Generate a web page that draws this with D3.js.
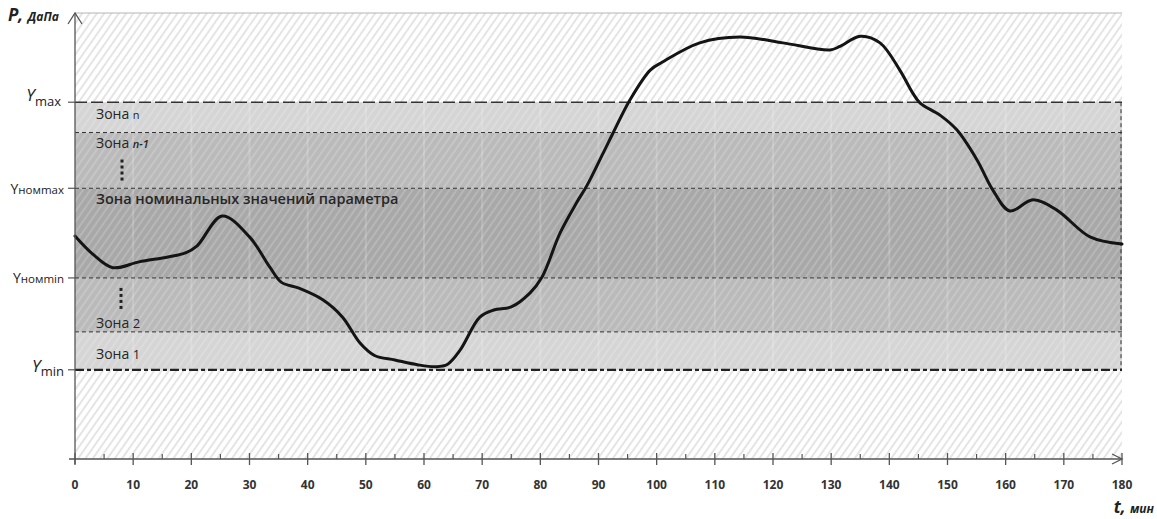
<!DOCTYPE html>
<html>
<head>
<meta charset="utf-8">
<script src="https://cdn.jsdelivr.net/npm/d3@7"></script>
<style>
  html, body { margin: 0; padding: 0; background: #fff; }
  svg { display: block; font-family: "Open Sans", "DejaVu Sans", sans-serif; }
</style>
</head>
<body>
<svg id="chart" width="1157" height="519"></svg>
<script>
// Time axis (minutes)
const timeTicks = d3.range(0, 181, 10);
const minorTicks = d3.range(5, 180, 10);

// Pressure trace: time (min) and value (arbitrary units of the P axis)
const traceTime = [0, 3, 6.5, 11, 16, 19, 21, 25.3, 30, 33.5, 35.5, 38.5, 42.6, 46, 49, 51.5, 55, 59, 62, 64, 66.2, 69.6, 72, 75, 78.2, 80.3, 83.4, 86.3, 88, 90.8, 92.5, 95.4, 98.9, 101, 107.4, 114.3, 121.7, 129.8, 131.5, 135, 138.4, 141.8, 144, 145.3, 148.7, 151.6, 155.1, 157.8, 160.7, 164.7, 168.8, 174.5, 180];
const traceValue = [50, 46, 42.9, 44.2, 45.3, 46.2, 47.8, 54.5, 49.8, 43, 39.6, 38.3, 35.7, 31.8, 26, 23.2, 22.2, 21.1, 20.7, 21.2, 24.4, 31.8, 33.4, 34.1, 37.2, 40.8, 50.7, 57.6, 61.3, 68.6, 73.1, 80.5, 87.2, 89, 93.3, 94.6, 93.3, 91.7, 92.5, 94.8, 93.3, 87.2, 82.1, 79.8, 77.1, 73.8, 67, 60.3, 55.6, 58.1, 55.8, 49.8, 48.2];

// Zone boundaries, bottom to top: Ymin, zone 1/2, Yном min, Yном max, zone n-1/n, Ymax
const zoneBounds = [20, 28.5, 40.6, 60.7, 73.2, 80];
const zoneFill = ["#d5d5d5", "#bababa", "#a8a8a8", "#bababa", "#d5d5d5"];

const svg = d3.select("#chart");
const x = d3.scaleLinear().domain([0, 180]).range([75, 1122]);
const y = d3.scaleLinear().domain([0, 100]).range([459, 13]);

const defs = svg.append("defs");
function hatch(id, color, width) {
  const p = defs.append("pattern")
    .attr("id", id)
    .attr("patternUnits", "userSpaceOnUse")
    .attr("width", 6).attr("height", 6)
    .attr("patternTransform", "rotate(35)");
  p.append("line")
    .attr("x1", 3).attr("y1", -1).attr("x2", 3).attr("y2", 7)
    .attr("stroke", color).attr("stroke-width", width);
}
hatch("hatchLight", "#dedede", 1.6);
hatch("hatchOnGray", "rgba(255,255,255,0.22)", 1.6);

const x0 = x(0), x1 = x(180);

// Whole plot area: white with light hatching
svg.append("rect")
  .attr("x", x0).attr("y", y(100))
  .attr("width", x1 - x0).attr("height", y(0) - y(100))
  .attr("fill", "#fff");
svg.append("rect")
  .attr("x", x0).attr("y", y(100))
  .attr("width", x1 - x0).attr("height", y(0) - y(100))
  .attr("fill", "url(#hatchLight)");

// Zone bands
const bands = d3.range(zoneBounds.length - 1).map(i => ({ lo: zoneBounds[i], hi: zoneBounds[i + 1], i }));
svg.selectAll("rect.zone").data(bands).join("rect")
  .attr("class", "zone")
  .attr("x", x0).attr("y", d => y(d.hi))
  .attr("width", x1 - x0).attr("height", d => y(d.lo) - y(d.hi))
  .attr("fill", d => zoneFill[d.i]);
svg.selectAll("rect.zoneHatch").data(bands).join("rect")
  .attr("class", "zoneHatch")
  .attr("x", x0).attr("y", d => y(d.hi))
  .attr("width", x1 - x0).attr("height", d => y(d.lo) - y(d.hi))
  .attr("fill", "url(#hatchOnGray)");

// Faint vertical grid every 10 min
svg.selectAll("line.vgrid").data(timeTicks.slice(1, -1)).join("line")
  .attr("class", "vgrid")
  .attr("x1", d => x(d)).attr("x2", d => x(d))
  .attr("y1", y(100)).attr("y2", y(0))
  .attr("stroke", "rgba(255,255,255,0.18)").attr("stroke-width", 2);

// Top border of the plot
svg.append("line")
  .attr("x1", x0).attr("x2", x1).attr("y1", y(100)).attr("y2", y(100))
  .attr("stroke", "#b5b5b5").attr("stroke-width", 1.2);

// Right border of the zone block (dashed)
svg.append("line")
  .attr("x1", x1 - 1).attr("x2", x1 - 1)
  .attr("y1", y(zoneBounds[zoneBounds.length - 1])).attr("y2", y(zoneBounds[0]))
  .attr("stroke", "#333").attr("stroke-width", 1).attr("stroke-dasharray", "4,3");

// Inner zone boundaries
svg.selectAll("line.zoneLine").data(zoneBounds.slice(1, -1)).join("line")
  .attr("class", "zoneLine")
  .attr("x1", x0).attr("x2", x1)
  .attr("y1", d => y(d)).attr("y2", d => y(d))
  .attr("stroke", "#333").attr("stroke-width", 1).attr("stroke-dasharray", "4,3");

// Ymax and Ymin lines
svg.append("line")
  .attr("x1", x0).attr("x2", x1)
  .attr("y1", y(zoneBounds[5])).attr("y2", y(zoneBounds[5]))
  .attr("stroke", "#333").attr("stroke-width", 1.6).attr("stroke-dasharray", "12,4");
svg.append("line")
  .attr("x1", x0).attr("x2", x1)
  .attr("y1", y(zoneBounds[0])).attr("y2", y(zoneBounds[0]))
  .attr("stroke", "#222").attr("stroke-width", 2.2).attr("stroke-dasharray", "9,3,4,3");

// Zone captions
const cap = svg.append("g").attr("fill", "#262626").attr("font-size", 14);
const tN = cap.append("text").attr("x", 96).attr("y", y(zoneBounds[5]) + 17);
tN.append("tspan").text("Зона ");
tN.append("tspan").attr("font-size", 11).text("n");
const tN1 = cap.append("text").attr("x", 96).attr("y", y(zoneBounds[4]) + 15.5);
tN1.append("tspan").text("Зона ");
tN1.append("tspan").attr("font-size", 11).attr("font-style", "italic").attr("font-weight", 600).text("n-1");
cap.append("text").attr("x", 96).attr("y", y(zoneBounds[3]) + 16)
  .attr("font-size", 14.5).attr("font-weight", 600).text("Зона номинальных значений параметра");
const t2 = cap.append("text").attr("x", 96).attr("y", y(zoneBounds[1]) - 3.5);
t2.append("tspan").text("Зона ");
t2.append("tspan").attr("font-size", 13).text("2");
const t1 = cap.append("text").attr("x", 96).attr("y", y(zoneBounds[1]) + 27.5);
t1.append("tspan").text("Зона ");
t1.append("tspan").attr("font-size", 13).text("1");

// Vertical ellipsis marks between the zones
const dotOffsets = [0, 6, 12, 18];
svg.selectAll("rect.dotA").data(dotOffsets).join("rect")
  .attr("class", "dotA")
  .attr("x", 120.5).attr("y", d => y(zoneBounds[4]) + 27 + d)
  .attr("width", 3).attr("height", 3).attr("fill", "#222");
svg.selectAll("rect.dotB").data(dotOffsets).join("rect")
  .attr("class", "dotB")
  .attr("x", 119.5).attr("y", d => y(zoneBounds[2]) + 10 + d)
  .attr("width", 3).attr("height", 3).attr("fill", "#222");

// Pressure trace
const line = d3.line()
  .x((d, i) => x(traceTime[i]))
  .y(d => y(d))
  .curve(d3.curveCatmullRom.alpha(0.5));
svg.append("path")
  .attr("d", line(traceValue))
  .attr("fill", "none")
  .attr("stroke", "#141414")
  .attr("stroke-width", 3)
  .attr("stroke-linejoin", "round")
  .attr("stroke-linecap", "round");

// Axes
const axisColor = "#555";
svg.append("line")
  .attr("x1", x0).attr("x2", x0).attr("y1", y(100)).attr("y2", y(0) + 5)
  .attr("stroke", axisColor).attr("stroke-width", 1.3);
svg.append("path")
  .attr("d", `M${x0 - 7},${y(100) + 11}L${x0},${y(100)}L${x0 + 7},${y(100) + 11}`)
  .attr("fill", "none").attr("stroke", axisColor).attr("stroke-width", 1.3);
svg.append("line")
  .attr("x1", x0 - 6).attr("x2", x1).attr("y1", y(0)).attr("y2", y(0))
  .attr("stroke", axisColor).attr("stroke-width", 1.3);
svg.append("path")
  .attr("d", `M${x1 - 10},${y(0) - 5}L${x1},${y(0)}L${x1 - 10},${y(0) + 5}`)
  .attr("fill", "none").attr("stroke", axisColor).attr("stroke-width", 1.3);

// X ticks
svg.selectAll("line.xt").data(timeTicks).join("line")
  .attr("class", "xt")
  .attr("x1", d => x(d)).attr("x2", d => x(d))
  .attr("y1", y(0) - 6).attr("y2", y(0) + 6)
  .attr("stroke", axisColor).attr("stroke-width", 1.3);
svg.selectAll("line.xmt").data(minorTicks).join("line")
  .attr("class", "xmt")
  .attr("x1", d => x(d)).attr("x2", d => x(d))
  .attr("y1", y(0) - 5).attr("y2", y(0))
  .attr("stroke", axisColor).attr("stroke-width", 1.2);
svg.selectAll("text.xl").data(timeTicks).join("text")
  .attr("class", "xl")
  .attr("x", d => x(d)).attr("y", y(0) + 30)
  .attr("text-anchor", "middle")
  .attr("font-size", 12).attr("font-weight", 700).attr("fill", "#333")
  .text(d => d);

// Y ticks at the named levels
const yLevels = [zoneBounds[5], zoneBounds[3], zoneBounds[2], zoneBounds[0]];
svg.selectAll("line.yt").data(yLevels).join("line")
  .attr("class", "yt")
  .attr("x1", x0 - 7).attr("x2", x0)
  .attr("y1", d => y(d)).attr("y2", d => y(d))
  .attr("stroke", axisColor).attr("stroke-width", 1.2);

const lab = svg.append("g").attr("fill", "#222").attr("text-anchor", "end");
const lMax = lab.append("text").attr("x", 61).attr("y", y(zoneBounds[5]) - 1);
lMax.append("tspan").attr("font-size", 17).attr("font-style", "italic").text("Y");
lMax.append("tspan").attr("font-size", 13).attr("dy", 5).text("max");
const lNmax = lab.append("text").attr("x", 64).attr("y", y(zoneBounds[3]) + 6);
lNmax.append("tspan").attr("font-size", 14).text("Y");
lNmax.append("tspan").attr("font-size", 11.5).text("номmax");
const lNmin = lab.append("text").attr("x", 64).attr("y", y(zoneBounds[2]) + 5);
lNmin.append("tspan").attr("font-size", 14).text("Y");
lNmin.append("tspan").attr("font-size", 11.5).text("номmin");
const lMin = lab.append("text").attr("x", 64).attr("y", y(zoneBounds[0]) + 2);
lMin.append("tspan").attr("font-size", 17).attr("font-style", "italic").text("Y");
lMin.append("tspan").attr("font-size", 13).attr("dy", 4).text("min");

// Axis titles
const pT = svg.append("text").attr("x", 8).attr("y", 21)
  .attr("font-weight", 700).attr("font-style", "italic").attr("fill", "#222");
pT.append("tspan").attr("font-size", 17).text("P, ");
pT.append("tspan").attr("font-size", 12).text("ДаПа");
const tT = svg.append("text").attr("x", 1154).attr("y", 513).attr("text-anchor", "end")
  .attr("font-weight", 700).attr("font-style", "italic").attr("fill", "#222");
tT.append("tspan").attr("font-size", 17).text("t, ");
tT.append("tspan").attr("font-size", 12).text("мин");
</script>
</body>
</html>
